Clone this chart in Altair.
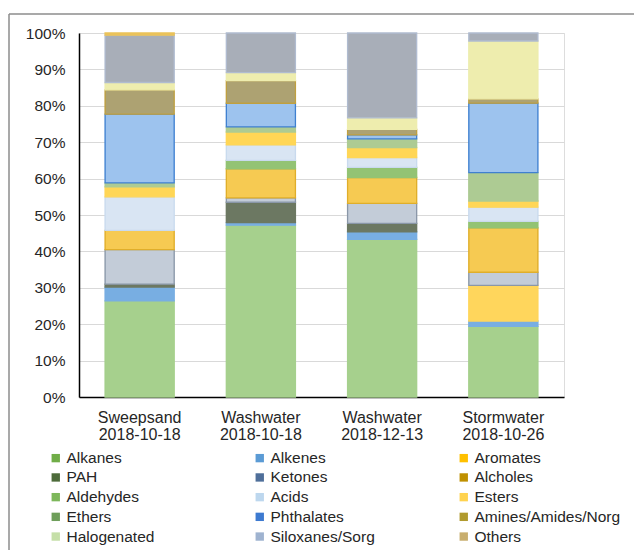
import altair as alt
import pandas as pd

samples = ["Sweepsand|2018-10-18", "Washwater|2018-10-18", "Washwater|2018-12-13", "Stormwater|2018-10-26"]
categories = ["Alkanes", "Alkenes", "Aromates", "PAH", "Ketones", "Alcholes", "Aldehydes", "Acids",
              "Esters", "Ethers", "Phthalates", "Amines/Amides/Norg", "Halogenated", "Siloxanes/Sorg", "Others"]

sweepsand_1018 = [26.4, 3.8, 0.0, 0.8, 9.5, 5.3, 0.0, 9.2, 2.7, 1.1, 18.9, 6.7, 2.0, 13.0, 0.6]
washwater_1018 = [47.2, 0.7, 0.0, 5.6, 1.2, 8.0, 2.3, 4.3, 3.5, 1.4, 6.5, 6.2, 2.2, 10.9, 0.0]
washwater_1213 = [43.3, 2.1, 0.0, 2.3, 5.5, 7.1, 2.8, 2.7, 2.7, 2.4, 1.1, 1.5, 3.2, 23.3, 0.0]
stormwater_1026 = [19.4, 1.5, 9.8, 0.0, 3.6, 12.2, 1.8, 3.9, 1.7, 7.8, 19.1, 1.2, 15.9, 2.2, 0.0]

bar_fill = ["#A6D08D", "#78AEE2", "#FFD65C", "#6C7862", "#C3CCD8", "#F6CA52", "#93C374", "#D9E5F3",
            "#FFD656", "#ADCB93", "#9DC3EE", "#ADA272", "#EEEDAE", "#A8AEB8", "#EAC25A"]
bar_stroke = ["#A6D08D", "#78AEE2", "#FFD65C", "#6C7862", "#8A97A8", "#E0AE2A", "#93C374", "#C9DAEE",
              "#FFD656", "#ADCB93", "#3F80D0", "#C0A040", "#EEEDAE", "#B0BCD0", "#EAC25A"]
legend_color = ["#70AD47", "#5B9BD5", "#FFC000", "#4D6B3A", "#4F6F9A", "#BF9000", "#7DB75A", "#BDD7EE",
                "#FFD34F", "#6E9E5A", "#3D7AD0", "#B09A2E", "#C5DFA8", "#9FB3D0", "#C8AE6E"]

series = [sweepsand_1018, washwater_1018, washwater_1213, stormwater_1026]
rows = []
for s, vals in zip(samples, series):
    for i, (c, v) in enumerate(zip(categories, vals)):
        if v > 0:
            rows.append({"sample": s, "cat": c, "value": v, "idx": i})
df = pd.DataFrame(rows)

FONT = "Liberation Sans"

x_enc = alt.X("sample:N", sort=samples,
              scale=alt.Scale(paddingInner=0.43, paddingOuter=0.215),
              axis=alt.Axis(title=None, labelAngle=0, labelExpr="split(datum.label, '|')",
                            ticks=False, domainColor="#000000", domainWidth=1.5,
                            labelPadding=12, labelFontSize=16, labelLineHeight=17,
                            labelColor="#262626", labelFont=FONT))
y_enc = alt.Y("value:Q", stack="normalize", scale=alt.Scale(domain=[0, 1]),
              axis=alt.Axis(title=None, format="%", values=[i / 10 for i in range(11)],
                            ticks=False, labelPadding=14, labelFontSize=15.5,
                            labelColor="#262626", labelFont=FONT,
                            domainColor="#000000", domainWidth=1.5,
                            grid=True, gridColor="#D9D9D9", gridWidth=1))
order_enc = alt.Order("idx:Q", sort="ascending")

base = alt.Chart(df)

legend_layer = base.mark_bar().encode(
    x=x_enc, y=y_enc, order=order_enc,
    color=alt.Color("cat:N", sort=categories,
                    scale=alt.Scale(domain=categories, range=legend_color),
                    legend=alt.Legend(title=None, orient="none", legendX=-31, legendY=417,
                                      direction="horizontal",
                                      columns=3, gridAlign="all", columnPadding=39, rowPadding=2.7,
                                      symbolType="square", symbolSize=70, symbolStrokeWidth=0,
                                      labelFontSize=15.5, labelFont=FONT, labelColor="#262626",
                                      labelOffset=3, labelLimit=300)),
)

bars = base.mark_bar(strokeWidth=1.3).encode(
    x=x_enc, y=y_enc, order=order_enc,
    fill=alt.Fill("cat:N", sort=categories,
                  scale=alt.Scale(domain=categories, range=bar_fill), legend=None),
    stroke=alt.Stroke("cat:N", sort=categories,
                      scale=alt.Scale(domain=categories, range=bar_stroke), legend=None),
)

frame_df = pd.DataFrame({"k": [0]})
left_border = alt.Chart(frame_df).mark_rule(color="#8C8C8C", strokeWidth=1.5).encode(
    x=alt.value(-70), y=alt.value(-19), y2=alt.value(530))
top_border = alt.Chart(frame_df).mark_rule(color="#8C8C8C", strokeWidth=1.5).encode(
    x=alt.value(-70), x2=alt.value(560), y=alt.value(-19))

chart = alt.layer(legend_layer, bars, left_border, top_border).resolve_scale(
    fill="independent", stroke="independent", color="independent"
).properties(
    width=485, height=364,
    autosize=alt.AutoSizeParams(type="none"),
    padding={"left": 71, "top": 25, "right": 70, "bottom": 153},
).configure_view(stroke=None).configure(background="#FFFFFF")

chart.save("out.html", embed_options={"renderer": "svg", "actions": False})
